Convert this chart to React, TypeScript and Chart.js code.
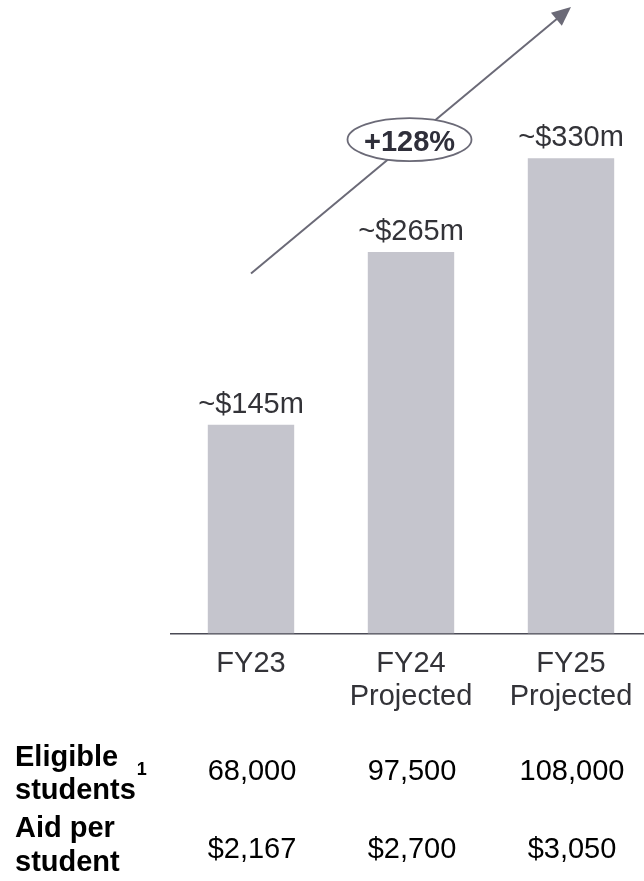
import React, { useEffect, useRef } from "react";
import { Chart, registerables } from "chart.js";

Chart.register(...registerables);

// ---- data ----
const categories = [["FY23"], ["FY24", "Projected"], ["FY25", "Projected"]];
const aidValues = [145, 265, 330];
const valueLabels = ["~$145m", "~$265m", "~$330m"];
const growthLabel = "+128%";
const rowLabels = [
  ["Eligible", "students"],
  ["Aid per", "student"],
];
const rowFootnotes = ["1", ""];
const eligibleStudents = ["68,000", "97,500", "108,000"];
const aidPerStudent = ["$2,167", "$2,700", "$3,050"];
// growth arrow in data coordinates (category index, value)
const arrowFrom = [0, 250];
const arrowTo = [2, 435];
const badgeAt = [1, 343];

const FAMILY = "'Liberation Sans', Arial, Helvetica, sans-serif";
const BAR_COLOR = "#c5c5cd";
const ARROW_COLOR = "#6b6a77";

const overlay = {
  id: "overlay",
  afterDatasetsDraw(chart: any) {
    const ctx = chart.ctx as CanvasRenderingContext2D;
    const xs = chart.scales.x;
    const ys = chart.scales.y;
    const meta = chart.getDatasetMeta(0);
    ctx.save();

    // value labels above bars
    ctx.font = `29px ${FAMILY}`;
    ctx.fillStyle = "#333338";
    ctx.textAlign = "center";
    ctx.textBaseline = "alphabetic";
    meta.data.forEach((bar: any, i: number) => {
      ctx.fillText(valueLabels[i], bar.x, bar.y - 12);
    });

    // growth arrow
    const x0 = xs.getPixelForValue(arrowFrom[0]);
    const y0 = ys.getPixelForValue(arrowFrom[1]);
    const x1 = xs.getPixelForValue(arrowTo[0]);
    const y1 = ys.getPixelForValue(arrowTo[1]);
    const ang = Math.atan2(y1 - y0, x1 - x0);
    const headLen = 19;
    const headHalf = 8.5;
    ctx.strokeStyle = ARROW_COLOR;
    ctx.fillStyle = ARROW_COLOR;
    ctx.lineWidth = 2;
    ctx.beginPath();
    ctx.moveTo(x0, y0);
    ctx.lineTo(x1 - Math.cos(ang) * (headLen - 2), y1 - Math.sin(ang) * (headLen - 2));
    ctx.stroke();
    const bx = x1 - Math.cos(ang) * headLen;
    const by = y1 - Math.sin(ang) * headLen;
    ctx.beginPath();
    ctx.moveTo(x1, y1);
    ctx.lineTo(bx + Math.sin(ang) * headHalf, by - Math.cos(ang) * headHalf);
    ctx.lineTo(bx - Math.sin(ang) * headHalf, by + Math.cos(ang) * headHalf);
    ctx.closePath();
    ctx.fill();

    // badge ellipse
    const cx = xs.getPixelForValue(badgeAt[0]) - 1.5;
    const cy = ys.getPixelForValue(badgeAt[1]);
    ctx.beginPath();
    ctx.ellipse(cx, cy, 62, 21.5, 0, 0, Math.PI * 2);
    ctx.fillStyle = "#ffffff";
    ctx.fill();
    ctx.lineWidth = 1.8;
    ctx.strokeStyle = ARROW_COLOR;
    ctx.stroke();
    ctx.font = `bold 29px ${FAMILY}`;
    ctx.fillStyle = "#2f2f3a";
    ctx.textAlign = "center";
    ctx.textBaseline = "alphabetic";
    ctx.fillText(growthLabel, cx, cy + 11.5);

    // table below chart
    ctx.fillStyle = "#000000";
    ctx.textAlign = "left";
    const labelBaselines = [
      [766, 799],
      [837, 871],
    ];
    rowLabels.forEach((lines, r) => {
      lines.forEach((line, j) => {
        ctx.font = `bold 29px ${FAMILY}`;
        ctx.fillText(line, 15, labelBaselines[r][j]);
        if (j === lines.length - 1 && rowFootnotes[r]) {
          const w = ctx.measureText(line).width;
          ctx.font = `bold 18px ${FAMILY}`;
          ctx.fillText(rowFootnotes[r], 15 + w + 1, labelBaselines[r][j] - 24);
        }
      });
    });
    ctx.font = `29px ${FAMILY}`;
    ctx.textAlign = "center";
    const rows = [eligibleStudents, aidPerStudent];
    const rowBaselines = [780, 858];
    rows.forEach((row, r) => {
      row.forEach((v, i) => {
        ctx.fillText(v, xs.getPixelForValue(i) + 1, rowBaselines[r]);
      });
    });

    ctx.restore();
  },
};

export default function App() {
  const ref = useRef<HTMLCanvasElement | null>(null);

  useEffect(() => {
    document.body.style.margin = "0";
    document.body.style.overflow = "hidden";
    const canvas = ref.current;
    if (!canvas) return;
    const chart = new Chart(canvas, {
      type: "bar",
      data: {
        labels: categories,
        datasets: [
          {
            data: aidValues,
            backgroundColor: BAR_COLOR,
            borderWidth: 0,
            barPercentage: 0.9,
            categoryPercentage: 0.6,
          },
        ],
      },
      options: {
        responsive: false,
        animation: false,
        devicePixelRatio: 1,
        layout: { padding: { left: 171, right: 9, top: 57.5, bottom: 0 } },
        plugins: {
          legend: { display: false },
          tooltip: { enabled: false },
        },
        scales: {
          x: {
            grid: { display: false, drawTicks: false },
            border: { display: true, color: "#4a4a55", width: 1.5 },
            ticks: {
              color: "#333338",
              font: { family: FAMILY, size: 29, lineHeight: 1.14 },
              padding: 14,
              maxRotation: 0,
              autoSkip: false,
            },
            afterFit: (s: any) => {
              s.height = 247.5;
            },
          },
          y: { display: false, min: 0, max: 400 },
        },
      },
      plugins: [overlay],
    });
    return () => chart.destroy();
  }, []);

  return (
    <div style={{ width: 644, height: 881, overflow: "hidden", position: "relative", background: "#fff" }}>
      <canvas ref={ref} width={660} height={881} style={{ display: "block" }} />
    </div>
  );
}
